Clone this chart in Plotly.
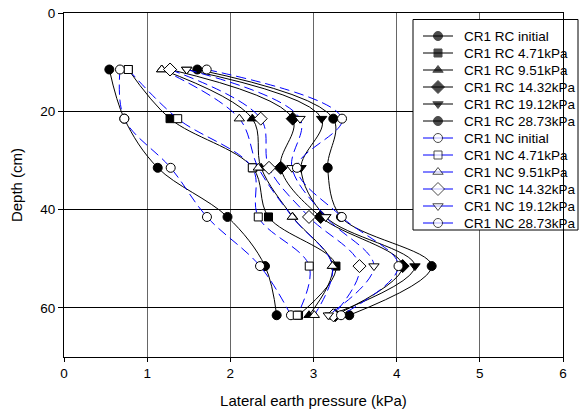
import plotly.graph_objects as go

depth = [11.5, 21.5, 31.5, 41.5, 51.5, 61.5]

rc_initial = [0.545, 0.725, 1.127, 1.966, 2.417, 2.557]
rc_4_71 = [0.773, 1.275, 2.27, 2.459, 3.27, 2.82]
rc_9_51 = [1.175, 2.264, 2.37, 2.75, 3.23, 2.946]
rc_14_32 = [1.275, 2.750, 2.606, 3.086, 4.072, 3.26]
rc_19_12 = [1.475, 3.098, 2.850, 3.147, 4.220, 3.20]
rc_28_73 = [1.603, 3.238, 3.171, 3.33, 4.421, 3.430]

nc_initial = [0.673, 0.725, 1.283, 1.719, 2.357, 2.729]
nc_4_71 = [0.773, 1.367, 2.264, 2.336, 2.949, 2.805]
nc_9_51 = [1.175, 2.108, 2.336, 2.745, 3.228, 3.010]
nc_14_32 = [1.275, 2.365, 2.465, 2.946, 3.553, 3.238]
nc_19_12 = [1.475, 2.838, 2.741, 3.147, 3.727, 3.178]
nc_28_73 = [1.716, 3.343, 2.801, 3.340, 4.022, 3.331]

series_names = [
    "CR1 RC initial", "CR1 RC 4.71kPa", "CR1 RC 9.51kPa",
    "CR1 RC 14.32kPa", "CR1 RC 19.12kPa", "CR1 RC 28.73kPa",
    "CR1 NC initial", "CR1 NC 4.71kPa", "CR1 NC 9.51kPa",
    "CR1 NC 14.32kPa", "CR1 NC 19.12kPa", "CR1 NC 28.73kPa",
]
series_values = [rc_initial, rc_4_71, rc_9_51, rc_14_32, rc_19_12, rc_28_73,
                 nc_initial, nc_4_71, nc_9_51, nc_14_32, nc_19_12, nc_28_73]

x_ticks = [0, 1, 2, 3, 4, 5, 6]
y_ticks = [0, 20, 40, 60]

# ---- styling ----
FONT = "Liberation Sans, Arial, sans-serif"
SYMBOLS = ["circle", "square", "triangle-up", "diamond", "triangle-down", "circle"]
SIZES = [9, 8, 9, 10, 9, 9]

W, H = 583, 417
ML, MR, MT, MB = 64, 20, 13, 60
PX0, PX1 = ML, W - MR          # plot area in page pixels
PY0, PY1 = MT, H - MB

# legend geometry (page pixels)
LEG_L, LEG_R, LEG_T, LEG_B = 413, 578, 19.5, 230
LEG_ROW0, LEG_DY = 36, 17
LEG_LINE0, LEG_LINE1 = 423, 453
LEG_TEXT_X = 462


def style_of(i):
    is_rc = i < 6
    k = i % 6
    color = "black" if is_rc else "#0000ff"
    fill = "black" if is_rc else "white"
    return is_rc, color, fill, SYMBOLS[k], SIZES[k]


fig = go.Figure()

# data traces
for i, (name, vals) in enumerate(zip(series_names, series_values)):
    is_rc, color, fill, sym, sz = style_of(i)
    line = dict(color=color, width=1, shape="spline", smoothing=1.0)
    if not is_rc:
        line["dash"] = "10px,5px"
    fig.add_trace(go.Scatter(
        x=vals, y=depth, name=name, mode="lines+markers", showlegend=False,
        line=line,
        marker=dict(symbol=sym, size=sz, color=fill,
                    line=dict(color="black", width=1)),
        xaxis="x", yaxis="y",
    ))

# legend drawn on an overlay subplot that uses page-pixel coordinates
fig.add_trace(go.Scatter(
    x=[LEG_L, W + 20, W + 20, LEG_L, LEG_L],
    y=[LEG_T, LEG_T, LEG_B, LEG_B, LEG_T],
    fill="toself", fillcolor="white", mode="lines",
    line=dict(width=0, color="white"), showlegend=False, hoverinfo="skip",
    xaxis="x2", yaxis="y2",
))
for i, name in enumerate(series_names):
    is_rc, color, fill, sym, sz = style_of(i)
    yy = LEG_ROW0 + LEG_DY * i
    xm = (LEG_LINE0 + LEG_LINE1) / 2
    fig.add_trace(go.Scatter(
        x=[LEG_LINE0, xm, LEG_LINE1], y=[yy, yy, yy],
        mode="lines+markers", showlegend=False, hoverinfo="skip",
        line=dict(color=color, width=1),
        marker=dict(symbol=sym, size=[0, sz, 0], color=fill,
                    line=dict(color="black", width=[0, 1, 0])),
        xaxis="x2", yaxis="y2",
    ))
    fig.add_annotation(
        x=LEG_TEXT_X, y=yy, xref="x2", yref="y2", text=name,
        showarrow=False, xanchor="left", yanchor="middle",
        font=dict(family=FONT, size=13.5, color="black"),
    )


def to_paper_x(px):
    return (px - PX0) / (PX1 - PX0)


def to_paper_y(py):
    return (PY1 - py) / (PY1 - PY0)


fig.add_shape(
    type="rect", xref="paper", yref="paper",
    x0=to_paper_x(LEG_L), x1=to_paper_x(LEG_R),
    y0=to_paper_y(LEG_B), y1=to_paper_y(LEG_T),
    line=dict(color="black", width=1), fillcolor="rgba(0,0,0,0)",
    layer="above",
)

fig.update_layout(
    width=W, height=H,
    margin=dict(l=ML, r=MR, t=MT, b=MB, autoexpand=False),
    paper_bgcolor="white", plot_bgcolor="white",
    font=dict(family=FONT, size=13, color="black"),
    showlegend=False,
    xaxis=dict(
        range=[0, 6], tickvals=x_ticks, ticktext=[str(v) for v in x_ticks],
        ticks="outside", ticklen=4, tickcolor="black",
        showgrid=True, gridcolor="#666666", gridwidth=1,
        showline=True, linecolor="black", linewidth=1, mirror=True,
        zeroline=False, layer="below traces",
        title=dict(text="Lateral earth pressure (kPa)",
                   font=dict(family=FONT, size=15), standoff=15),
        tickfont=dict(family=FONT, size=13.5),
    ),
    yaxis=dict(
        range=[70, 0], tickvals=y_ticks, ticktext=[str(v) for v in y_ticks],
        ticks="outside", ticklen=5, tickcolor="black",
        showgrid=True, gridcolor="black", gridwidth=1,
        showline=True, linecolor="black", linewidth=1, mirror=True,
        zeroline=False, layer="below traces",
        title=dict(text="Depth (cm)", font=dict(family=FONT, size=15),
                   standoff=14),
        tickfont=dict(family=FONT, size=13.5),
    ),
    xaxis2=dict(overlaying="x", range=[PX0, PX1], visible=False,
                fixedrange=True),
    yaxis2=dict(overlaying="y", range=[PY1, PY0], visible=False,
                fixedrange=True),
)

fig.write_html("out.html")
